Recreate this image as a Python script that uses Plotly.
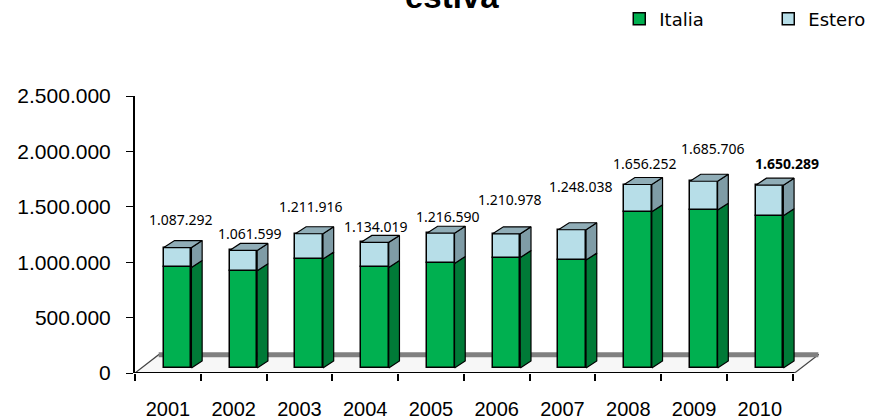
import plotly.graph_objects as go

years = ["2001", "2002", "2003", "2004", "2005", "2006", "2007", "2008", "2009", "2010"]
totals = [1087292, 1061599, 1211916, 1134019, 1216590, 1210978, 1248038, 1656252, 1685706, 1650289]
italia = [908000, 878000, 983000, 908000, 944000, 997000, 974000, 1410000, 1425000, 1374000]
estero = [t - i for t, i in zip(totals, italia)]

# fake 3D geometry (axis units)
SHIFT = 0.148      # bar front face offset from category centre
HALF_W = 0.21      # half width of the front face
DX, DY = 0.163, 63000  # depth of bar side / top faces
BASE = 45000       # bars stand on the floor, a bit above the axis
FLOOR_DX, FLOOR_DY = 0.36, 165000
X_LEFT, X_RIGHT = -0.5, 9.53

label_dx = [3, 7, 2, 1, 7, 4, 9, 7, 9, 17]
label_dy = [28, 17, 27, 16, 17, 34, 43, 21, 33, 22]

xs = [k + SHIFT for k in range(len(years))]


def box_side(y0s, y1s):
    px, py = [], []
    for x, y0, y1 in zip(xs, y0s, y1s):
        xr = x + HALF_W
        px += [xr, xr + DX, xr + DX, xr, xr, None]
        py += [y0, y0 + DY, y1 + DY, y1, y0, None]
    return px, py


def box_top(ys):
    px, py = [], []
    for x, y in zip(xs, ys):
        xl, xr = x - HALF_W, x + HALF_W
        px += [xl, xl + DX, xr + DX, xr, xl, None]
        py += [y, y + DY, y + DY, y, y, None]
    return px, py


fig = go.Figure()

# floor, behind the bars
floor_path = (f"M {X_LEFT},0 L {X_RIGHT},0 L {X_RIGHT + FLOOR_DX},{FLOOR_DY} "
              f"L {X_LEFT + FLOOR_DX},{FLOOR_DY} Z")
fig.add_shape(type="path", path=floor_path, xref="x", yref="y", layer="below",
              fillcolor="#f7f7f7", line=dict(color="#444444", width=1.2))
fig.add_shape(type="line", x0=X_LEFT + FLOOR_DX, x1=X_RIGHT + FLOOR_DX, y0=FLOOR_DY, y1=FLOOR_DY,
              xref="x", yref="y", layer="below", line=dict(color="#808080", width=5))
fig.add_shape(type="line", x0=X_LEFT, x1=X_RIGHT, y0=0, y1=0,
              xref="x", yref="y", line=dict(color="black", width=2))

ita_top = [BASE + v for v in italia]
tot_top = [BASE + v for v in totals]

fig.add_trace(go.Bar(
    x=xs, y=italia, base=[BASE] * len(xs), width=2 * HALF_W, name="Italia",
    marker=dict(color="#00b050", line=dict(color="black", width=1.5)),
))
fig.add_trace(go.Bar(
    x=xs, y=estero, base=ita_top, width=2 * HALF_W, name="Estero",
    marker=dict(color="#b7dee8", line=dict(color="black", width=1.5)),
))

sx, sy = box_side([BASE] * len(xs), ita_top)
fig.add_trace(go.Scatter(x=sx, y=sy, mode="lines", fill="toself", fillcolor="#007a37",
                         line=dict(color="black", width=1.2), showlegend=False, hoverinfo="skip"))
sx, sy = box_side(ita_top, tot_top)
fig.add_trace(go.Scatter(x=sx, y=sy, mode="lines", fill="toself", fillcolor="#7f9ca6",
                         line=dict(color="black", width=1.2), showlegend=False, hoverinfo="skip"))
tx, ty = box_top(tot_top)
fig.add_trace(go.Scatter(x=tx, y=ty, mode="lines", fill="toself", fillcolor="#90adb7",
                         line=dict(color="black", width=1.2), showlegend=False, hoverinfo="skip"))

for k, t in enumerate(totals):
    txt = f"{t:,}".replace(",", ".")
    if k == len(totals) - 1:
        txt = f"<b>{txt}</b>"
    fig.add_annotation(x=xs[k], y=BASE + t, text=txt, showarrow=False,
                       xshift=label_dx[k], yshift=label_dy[k], yanchor="middle",
                       font=dict(family="Noto Sans", size=14, color="black"))

fig.add_annotation(x=0.463, xref="paper", xanchor="center", y=1.287, yref="paper", yanchor="bottom",
                   text="<b>estiva</b>", showarrow=False,
                   font=dict(family="Liberation Sans", size=33, color="black"))

fig.update_layout(
    width=877, height=419,
    margin=dict(l=135, r=58, t=96, b=46, autoexpand=False),
    plot_bgcolor="white", paper_bgcolor="white",
    barmode="overlay", bargap=0,
    separators=",.",
    showlegend=True,
    legend=dict(orientation="h", x=0.708, xanchor="left", y=1.345, yanchor="top",
                font=dict(family="DejaVu Sans", size=18, color="black"),
                entrywidth=104, traceorder="normal", itemwidth=30),
)
fig.update_xaxes(
    range=[-0.5, 9.9], tickvals=list(range(len(years))), ticktext=years,
    showline=False, showgrid=False, zeroline=False, ticks="", ticklabelstandoff=22,
    tickfont=dict(family="Liberation Sans", size=20, color="black"),
    minor=dict(ticks="outside", tick0=-0.5, dtick=1, ticklen=7, tickwidth=1.5, tickcolor="black", showgrid=False),
)
fig.update_yaxes(
    range=[0, 2500000], dtick=500000, tickformat=",d",
    showline=True, linecolor="black", linewidth=2, showgrid=False, zeroline=False,
    ticks="outside", ticklen=7, tickcolor="black", ticklabelstandoff=11,
    tickfont=dict(family="Liberation Sans", size=21, color="black"),
)

# the page's default body margin would push the chart 8px off the corner
fig.write_html("out.html", config={"displayModeBar": False},
               post_script="document.body.style.margin = '0';")
